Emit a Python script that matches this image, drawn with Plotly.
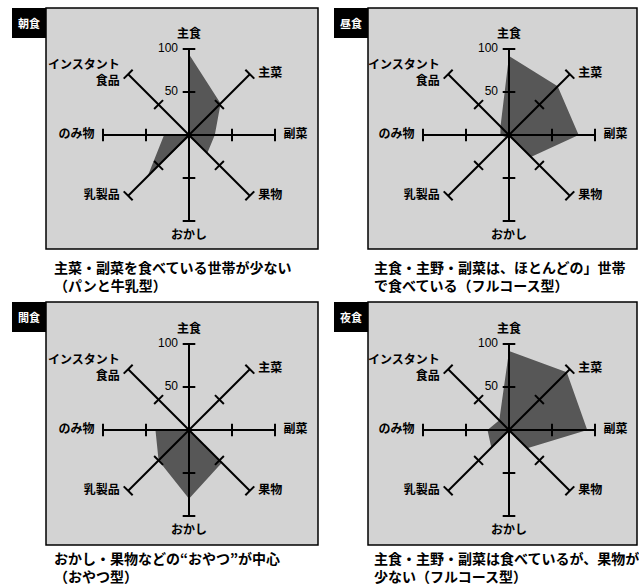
import plotly.graph_objects as go

# ---- data ----
CATEGORIES = ['主食', '主菜', '副菜', '果物', 'おかし', '乳製品', 'のみ物', 'インスタント<br>食品']
BREAKFAST = [94, 52, 30, 30, 2, 68, 29, 1]   # 朝食
LUNCH = [92, 80, 81, 36, 2, 4, 10, 14]       # 昼食
SNACK = [1, 1, 1, 54, 80, 50, 39, 1]         # 間食
NIGHT = [92, 95, 91, 30, 2, 29, 25, 16]      # 夜食
PANEL_NAMES = ['朝食', '昼食', '間食', '夜食']
CAPTIONS = [
    '主菜・副菜を食べている世帯が少ない<br>（パンと牛乳型）',
    '主食・主野・副菜は、ほとんどの」世帯<br>で食べている（フルコース型）',
    'おかし・果物などの“おやつ”が中心<br>（おやつ型）',
    '主食・主野・副菜は食べているが、果物が<br>少ない（フルコース型）',
]
TICK_VALUES = [50, 100]
TICK_LABELS = ['50', '100']
R_MAX = 100

W, H = 639, 585
FONT = 'Noto Sans CJK JP'
FILL = '#575757'
PANEL_BG = '#d3d3d3'

series = [BREAKFAST, LUNCH, SNACK, NIGHT]
centers = [(189, 135), (509, 135), (189, 430), (509, 430)]
boxes = [(46, 8, 318, 249), (368, 8, 637, 249), (46, 302, 318, 545), (368, 302, 637, 545)]
cap_pos = [(53, 256), (373, 256), (53, 547), (373, 547)]
RADIUS = 86
LABEL_POS = ['top center', 'middle right', 'middle right', 'middle right',
             'bottom center', 'middle left', 'middle left', 'middle left']

fig = go.Figure()
shapes = []
annotations = []
n = len(CATEGORIES)
tick_angles = [360 / n * i + 90 for i in range(n)]

for k in range(4):
    pid = 'polar' if k == 0 else f'polar{k+1}'
    sub = pid
    vals = series[k]
    # data polygon
    fig.add_trace(go.Scatterpolar(
        r=vals + [vals[0]], theta=CATEGORIES + [CATEGORIES[0]],
        fill='toself', fillcolor=FILL, mode='lines',
        line=dict(width=0, color=FILL), subplot=sub, showlegend=False, hoverinfo='skip'))
    # spokes
    sr, st = [], []
    for c in CATEGORIES:
        sr += [0, R_MAX, None]
        st += [c, c, None]
    fig.add_trace(go.Scatterpolar(
        r=sr, theta=st, mode='lines', line=dict(color='black', width=2),
        subplot=sub, showlegend=False, hoverinfo='skip', connectgaps=False))
    # tick marks
    tr, tt, ta = [], [], []
    for v in TICK_VALUES:
        for i, c in enumerate(CATEGORIES):
            tr.append(v); tt.append(c); ta.append(tick_angles[i])
    fig.add_trace(go.Scatterpolar(
        r=tr, theta=tt, mode='markers',
        marker=dict(symbol='line-ns', size=9, angle=ta, line=dict(color='black', width=2)),
        subplot=sub, showlegend=False, hoverinfo='skip', cliponaxis=False))
    # radial tick labels
    fig.add_trace(go.Scatterpolar(
        r=TICK_VALUES, theta=[CATEGORIES[0]] * len(TICK_VALUES), mode='markers+text',
        text=TICK_LABELS, textposition='middle left',
        marker=dict(size=16, color='rgba(0,0,0,0)'),
        textfont=dict(family='Liberation Sans', size=12, color='black'),
        subplot=sub, showlegend=False, hoverinfo='skip', cliponaxis=False))
    # category labels
    fig.add_trace(go.Scatterpolar(
        r=[R_MAX] * n, theta=CATEGORIES, mode='markers+text',
        text=CATEGORIES, textposition=LABEL_POS,
        marker=dict(size=12, color='rgba(0,0,0,0)'),
        textfont=dict(family=FONT, size=12, color='black', weight='bold'),
        subplot=sub, showlegend=False, hoverinfo='skip', cliponaxis=False))

    cx, cy = centers[k]
    dom = dict(x=[(cx - RADIUS) / W, (cx + RADIUS) / W],
               y=[1 - (cy + RADIUS) / H, 1 - (cy - RADIUS) / H])
    fig.update_layout(**{pid: dict(
        domain=dom, bgcolor='rgba(0,0,0,0)',
        angularaxis=dict(type='category', categoryarray=CATEGORIES, direction='clockwise',
                         rotation=90, showline=False, showgrid=False, ticks='',
                         showticklabels=False),
        radialaxis=dict(range=[0, R_MAX], showgrid=False, showline=False, ticks='',
                        showticklabels=False),
    )})

    x0, y0, x1, y1 = boxes[k]
    shapes.append(dict(type='rect', xref='paper', yref='paper', layer='below',
                       x0=x0 / W, x1=x1 / W, y0=1 - y0 / H, y1=1 - y1 / H,
                       fillcolor=PANEL_BG, line=dict(color='black', width=1.5)))
    shapes.append(dict(type='rect', xref='paper', yref='paper', layer='below',
                       x0=(x0 - 34) / W, x1=x0 / W, y0=1 - y0 / H, y1=1 - (y0 + 30) / H,
                       fillcolor='black', line=dict(width=0)))
    annotations.append(dict(x=(x0 - 17) / W, y=1 - (y0 + 15) / H, xref='paper', yref='paper',
                            text=PANEL_NAMES[k], showarrow=False, xanchor='center', yanchor='middle',
                            font=dict(family=FONT, size=11, color='white', weight='bold')))
    px, py = cap_pos[k]
    annotations.append(dict(x=px / W, y=1 - py / H, xref='paper', yref='paper',
                            text=CAPTIONS[k], showarrow=False, xanchor='left', yanchor='top',
                            align='left', borderpad=0,
                            font=dict(family=FONT, size=14, color='black', weight='bold')))

fig.update_layout(width=W, height=H, margin=dict(l=0, r=0, t=0, b=0),
                  paper_bgcolor='white', plot_bgcolor='white',
                  shapes=shapes, annotations=annotations, showlegend=False)
fig.write_html('out.html', post_script="document.body.style.margin='0';",
               config={'displayModeBar': False})
